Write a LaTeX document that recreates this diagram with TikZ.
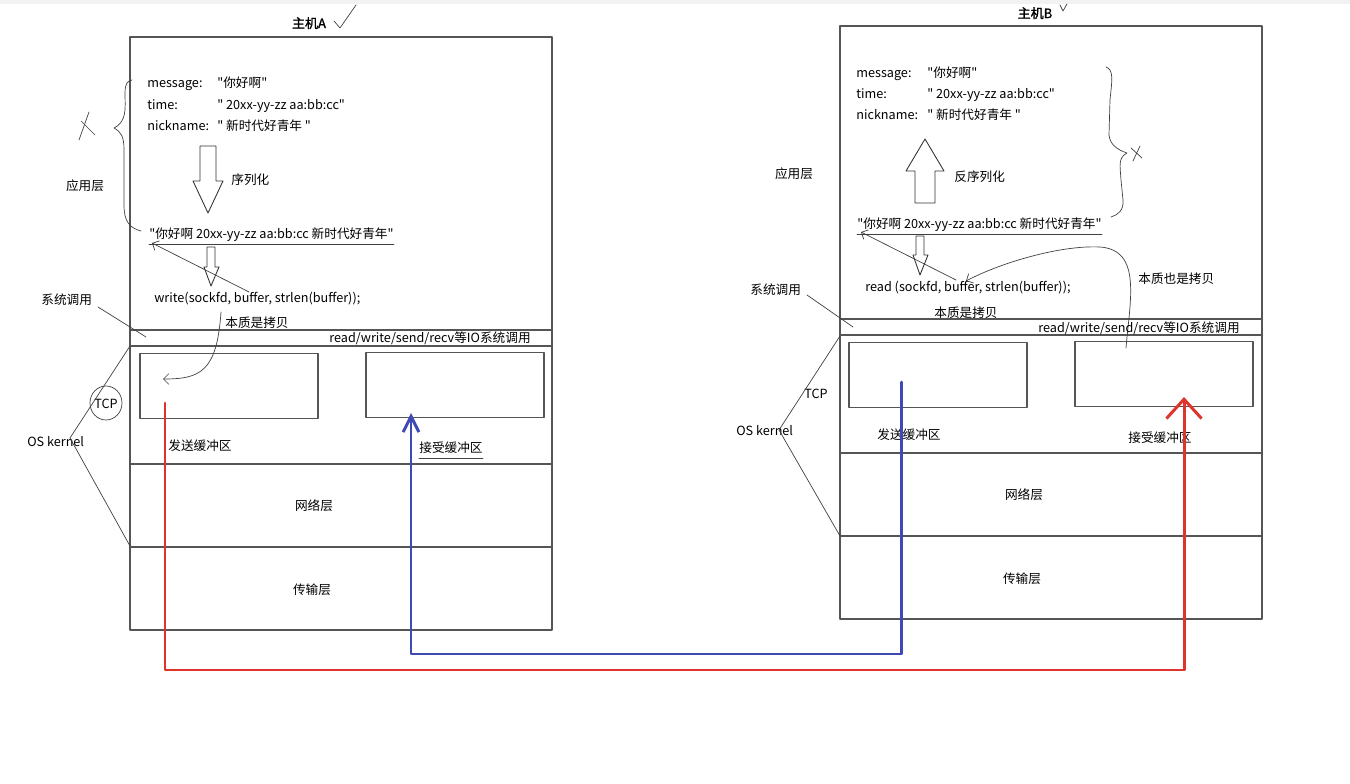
\documentclass[tikz,border=0pt]{standalone}
\usepackage{fontspec}
\setmainfont{Noto Sans CJK SC}[Ligatures=TeXOff]
\newfontfamily\titlefont{Noto Sans CJK SC}[FakeBold=1.5]
\usetikzlibrary{arrows.meta}
\definecolor{penred}{RGB}{222,52,44}
\definecolor{penblue}{RGB}{62,72,182}
\definecolor{frame}{RGB}{85,85,85}

\begin{document}
\begin{tikzpicture}[x=0.02cm,y=-0.02cm,line cap=round,line join=round,
  every node/.style={font=\fontsize{7.2}{9}\selectfont,inner sep=0pt,text height=0.8em,text depth=0.22em},
  box/.style={draw=frame,line width=0.6pt},
  buf/.style={draw=frame,line width=0.6pt,minimum width=3.56cm,minimum height=1.3cm,text height=,text depth=},
  txt/.style={anchor=west},
  pen/.style={black!75,line width=0.4pt},
  tip/.style={-{Straight Barb[length=3pt,width=6pt]}},
  hollow/.style={draw=black!80,line width=0.5pt},
  redpath/.style={penred,line width=1.7pt,-{Straight Barb[length=11pt,width=20pt]}},
  bluepath/.style={penblue,line width=1.7pt,-{Straight Barb[length=9pt,width=9pt]}}]
  \useasboundingbox (0,0) rectangle (1350,784);
  \fill[black!5] (0,0) rectangle (1350,4);

  \draw[box] (130,37) rectangle (552,630);
  \draw[box] (130,330) rectangle (552,346);
  \draw[box] (130,464) -- (552,464); \draw[box] (130,547) -- (552,547);
  \node[buf] (sendA) at (229,386) {}; \node[buf] (recvA) at (455,385) {};
  \node[font=\titlefont\fontsize{7.4}{9}\selectfont] (hostA) at (309,23) {主机A};
  \draw[pen] (334,21) -- (340,28) -- (356,5);
  \node[txt] (msgA) at (147,82) {message:}; \node[txt] at (217,82) {"你好啊"};
  \node[txt] (timeA) at (147,104) {time:}; \node[txt] at (217,104) {" 20xx-yy-zz aa:bb:cc"};
  \node[txt] (nickA) at (147,125) {nickname:}; \node[txt] at (217,125) {" 新时代好青年 "};
  \draw[hollow] (200,146) -- (216,146) -- (216,181) -- (223,181) -- (208,213) -- (193,181) -- (200,181) -- cycle;
  \node[txt] (serA) at (231,179) {序列化};
  \node[txt] (strA) at (149,233) {"你好啊 20xx-yy-zz aa:bb:cc 新时代好青年"};
  \draw[pen] ([yshift=-1pt]strA.south west) -- ([yshift=-1pt]strA.south east);
  \draw[hollow] (207,247) -- (215,247) -- (215,267) -- (219,267) -- (211,286) -- (204,267) -- (207,267) -- cycle;
  \node[txt] (writeA) at (154,297) {write(sockfd, buffer, strlen(buffer));};
  \coordinate (wA) at (249,292); \coordinate (sA) at (152,243);
  \draw[pen,tip] (wA) -- (sA);
  \node[txt] (copyA) at (225,322) {本质是拷贝};
  \coordinate (cA) at (221,312); \coordinate (cA2) at (163,379);
  \draw[pen,tip] (cA) .. controls (217,372) and (200,379) .. (cA2);
  \node[anchor=east] (ioA) at (531,337) {read/write/send/recv等IO系统调用};
  \node[txt] (sendlA) at (168,445) {发送缓冲区};
  \node[txt] (recvlA) at (419,447) {接受缓冲区};
  \draw[pen] ([yshift=-1pt]recvlA.south west) -- ([yshift=-1pt]recvlA.south east);
  \node (netA) at (314,505) {网络层};
  \node (tranA) at (312,589) {传输层};
  \node (tcpA) at (106,403) {TCP};
  \draw[pen] (tcpA) ellipse (16 and 17);
  \node[txt] (osA) at (27,441) {OS kernel};
  \draw[pen] (130,346) -- (70,438) -- (130,546);
  \node[txt] (sysA) at (41,299) {系统调用};
  \draw[pen] (98,307) -- (146,337);
  \node (appA) at (85,185) {应用层};
  \draw[pen] (132,80) .. controls (122,82) and (126,95) .. (125,110) .. controls (124,122) and (118,126) .. (114,128)
    .. controls (121,132) and (124,136) .. (124,150) -- (124,205) .. controls (124,222) and (130,228) .. (141,231);
  \draw[pen] (89,112) -- (79,140); \draw[pen] (81,121) -- (95,135);

  \draw[box] (840,26) rectangle (1262,619);
  \draw[box] (840,319) rectangle (1262,335);
  \draw[box] (840,453) -- (1262,453); \draw[box] (840,536) -- (1262,536);
  \node[buf] (sendB) at (938,375) {}; \node[buf] (recvB) at (1164,374) {};
  \node[font=\titlefont\fontsize{7.4}{9}\selectfont] (hostB) at (1035,13) {主机B};
  \draw[pen] (1060,5) -- (1063,11) -- (1067,4);
  \node[txt] (msgB) at (856,72) {message:}; \node[txt] at (927,72) {"你好啊"};
  \node[txt] (timeB) at (856,93) {time:}; \node[txt] at (927,93) {" 20xx-yy-zz aa:bb:cc"};
  \node[txt] (nickB) at (856,114) {nickname:}; \node[txt] at (927,114) {" 新时代好青年 "};
  \draw[hollow] (925,139) -- (944,171) -- (935,171) -- (935,203) -- (915,203) -- (915,171) -- (906,171) -- cycle;
  \node[txt] (deserB) at (954,176) {反序列化};
  \node[txt] (strB) at (857,223) {"你好啊 20xx-yy-zz aa:bb:cc 新时代好青年"};
  \draw[pen] ([yshift=-1pt]strB.south west) -- ([yshift=-1pt]strB.south east);
  \draw[hollow] (916,236) -- (924,236) -- (924,255) -- (928,255) -- (920,275) -- (913,255) -- (916,255) -- cycle;
  \node[txt] (readB) at (865,286) {read (sockfd, buffer, strlen(buffer));};
  \coordinate (rB) at (956,280); \coordinate (sB) at (861,232);
  \draw[pen,tip] (rB) -- (sB);
  \node[txt] (copyB) at (934,312) {本质是拷贝};
  \node[txt] (copy2B) at (1138,278) {本质也是拷贝};
  \coordinate (cB) at (1126,348); \coordinate (cB2) at (966,281);
  \draw[pen,tip] (cB) .. controls (1130,300) and (1142,250) .. (1100,247) .. controls (1060,245) and (1000,263) .. (cB2);
  \node[anchor=east] (ioB) at (1240,327) {read/write/send/recv等IO系统调用};
  \node[txt] (sendlB) at (877,434) {发送缓冲区};
  \node[txt] (recvlB) at (1128,437) {接受缓冲区};
  \node (netB) at (1024,494) {网络层};
  \node (tranB) at (1022,578) {传输层};
  \node (tcpB) at (816,393) {TCP};
  \node[txt] (osB) at (736,430) {OS kernel};
  \draw[pen] (840,336) -- (779,430) -- (840,536);
  \node[txt] (sysB) at (750,289) {系统调用};
  \draw[pen] (807,295) -- (853,327);
  \node (appB) at (794,173) {应用层};
  \draw[pen] (1106,67) .. controls (1114,70) and (1112,80) .. (1110,100) -- (1109,135) .. controls (1110,145) and (1118,150) .. (1127,153)
    .. controls (1118,158) and (1120,165) .. (1121,180) -- (1123,200) .. controls (1124,210) and (1118,215) .. (1111,217);
  \draw[pen] (1140,146) -- (1133,161); \draw[pen] (1131,148) -- (1142,158);

  \coordinate (redA) at (165,403); \coordinate (redB) at (1184,397); \coordinate (redlow) at (0,670);
  \coordinate (blueB) at (901,382); \coordinate (blueA) at (411,413); \coordinate (bluelow) at (0,654);
  \draw[bluepath] (blueB) -- (blueB |- bluelow) -| (blueA);
  \draw[redpath] (redA) -- (redA |- redlow) -| (redB);
\end{tikzpicture}
\end{document}
